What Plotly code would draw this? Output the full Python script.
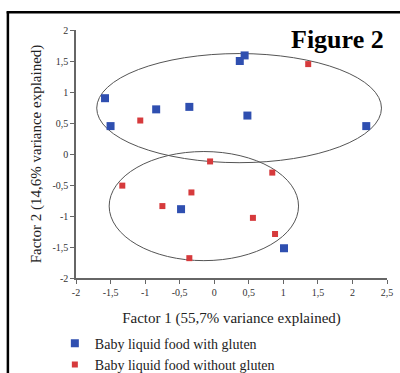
import plotly.graph_objects as go

# ---- data ----
with_x = [-1.58, -1.50, -0.84, -0.36, 0.37, 0.44, 0.48, 2.20, -0.48, 1.01]
with_y = [0.90, 0.45, 0.72, 0.76, 1.50, 1.59, 0.62, 0.45, -0.89, -1.52]
without_x = [-1.07, 1.36, -0.06, 0.84, -1.33, -0.33, -0.75, 0.56, 0.88, -0.36]
without_y = [0.54, 1.45, -0.12, -0.30, -0.51, -0.62, -0.84, -1.03, -1.29, -1.68]

x_ticks = [-2, -1.5, -1, -0.5, 0, 0.5, 1, 1.5, 2, 2.5]
x_tick_labels = ["-2", "-1,5", "-1", "-0,5", "0", "0,5", "1", "1,5", "2", "2,5"]
y_ticks = [-2, -1.5, -1, -0.5, 0, 0.5, 1, 1.5, 2]
y_tick_labels = ["-2", "-1,5", "-1", "-0,5", "0", "0,5", "1", "1,5", "2"]

# ellipses: centre x, centre y, half-width, half-height
ell_upper = [0.36, 0.74, 2.06, 0.88]
ell_lower = [-0.15, -0.84, 1.37, 0.88]

BLUE = "#2F4FB0"
RED = "#D63A3C"
FONT = "Liberation Serif"

fig = go.Figure()
fig.add_trace(go.Scatter(x=with_x, y=with_y, mode="markers",
                         name="Baby liquid food with gluten",
                         marker=dict(symbol="square", size=8, color=BLUE)))
fig.add_trace(go.Scatter(x=without_x, y=without_y, mode="markers",
                         name="Baby liquid food without gluten",
                         marker=dict(symbol="square", size=6, color=RED)))

shapes = []
for cx, cy, rx, ry in (ell_upper, ell_lower):
    shapes.append(dict(type="circle", xref="x", yref="y",
                       x0=cx - rx, x1=cx + rx, y0=cy - ry, y1=cy + ry,
                       line=dict(color="#555555", width=1), layer="below"))
# frame (left and top border)
shapes.append(dict(type="line", xref="paper", yref="paper",
                   x0=-0.219, x1=-0.219, y0=1.075, y1=-0.40,
                   line=dict(color="black", width=2.5)))
shapes.append(dict(type="line", xref="paper", yref="paper",
                   x0=-0.223, x1=1.05, y0=1.072, y1=1.072,
                   line=dict(color="black", width=2.5)))

fig.update_layout(
    width=400, height=373,
    margin=dict(l=76, r=13, t=30, b=95, autoexpand=False),
    plot_bgcolor="white", paper_bgcolor="white",
    font=dict(family=FONT, color="#222222"),
    shapes=shapes,
    showlegend=True,
    legend=dict(x=-0.068, y=-0.2, xanchor="left", yanchor="top",
                font=dict(family=FONT, size=14, color="#222222"),
                itemwidth=30, tracegroupgap=0, bgcolor="rgba(0,0,0,0)"),
    annotations=[dict(text="<b>Figure 2</b>", xref="paper", yref="paper",
                      x=0.996, y=0.96, xanchor="right", yanchor="middle",
                      showarrow=False,
                      font=dict(family=FONT, size=26, color="black"))],
)
fig.update_xaxes(range=[-2, 2.5], tickvals=x_ticks, ticktext=x_tick_labels,
                 showgrid=False, zeroline=False, showline=True,
                 linecolor="#666666", linewidth=1.5, ticks="outside",
                 ticklen=4, tickcolor="#666666", automargin=False,
                 tickfont=dict(family=FONT, size=10, color="#333333"),
                 title=dict(text="Factor 1 (55,7% variance explained)",
                            font=dict(family=FONT, size=15, color="#222222"),
                            standoff=16))
fig.update_yaxes(range=[-2, 2], tickvals=y_ticks, ticktext=y_tick_labels,
                 showgrid=False, zeroline=False, showline=True,
                 linecolor="#666666", linewidth=1.5, ticks="outside",
                 ticklen=4, tickcolor="#666666", automargin=False,
                 tickfont=dict(family=FONT, size=10, color="#333333"),
                 title=dict(text="Factor 2 (14,6% variance explained)",
                            font=dict(family=FONT, size=15, color="#222222"),
                            standoff=7))

fig.write_html("out.html", config={"displayModeBar": False},
               post_script="document.body.style.margin='0';"
                           "document.body.style.overflow='hidden';")
